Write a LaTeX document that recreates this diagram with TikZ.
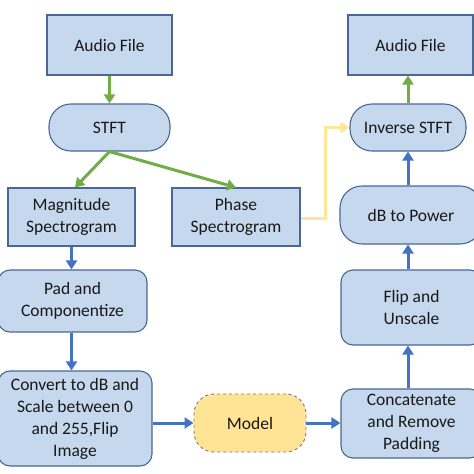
\documentclass[tikz,border=0pt]{standalone}
\usepackage{fontspec}
\setmainfont{Carlito}
\usetikzlibrary{arrows.meta}
\definecolor{boxfill}{RGB}{197,216,238}
\definecolor{boxline}{RGB}{72,104,150}
\definecolor{ablue}{RGB}{68,114,196}
\definecolor{agreen}{RGB}{112,173,71}
\definecolor{ayellow}{RGB}{255,230,153}
\definecolor{mfill}{RGB}{255,228,150}
\definecolor{mline}{RGB}{120,120,120}
\definecolor{txt}{RGB}{25,25,25}
\tikzset{
  base/.style={draw=boxline, line width=1.1pt, fill=boxfill, text=txt, align=center,
    inner sep=0pt, font=\fontsize{17.5}{22}\selectfont},
  sqbox/.style={base, rectangle},
  rbox/.style={base, rounded corners=12pt},
  capbox/.style={base, rounded corners=22pt},
  modelbox/.style={base, draw=mline, dashed, line width=0.9pt, fill=mfill, rounded corners=20pt},
  arr/.style={line width=3pt, -{Triangle[length=9pt,width=11pt]}},
  barr/.style={arr, ablue},
  garr/.style={arr, agreen},
  yarr/.style={arr, ayellow},
}
\begin{document}
\begin{tikzpicture}[x=1pt,y=-1pt]
\useasboundingbox[fill=white] (0,0) rectangle (474,474);
\node[sqbox, minimum width=125pt, minimum height=60pt] (af1) at (109.5,45) {Audio File};
\node[capbox, minimum width=121pt, minimum height=47pt] (stft) at (109.5,127.5) {STFT};
\node[sqbox, minimum width=127pt, minimum height=58pt] (mag) at (71.5,217) {Magnitude\\Spectrogram};
\node[sqbox, minimum width=128pt, minimum height=58pt] (phase) at (236,217) {Phase\\Spectrogram};
\node[rbox, minimum width=149pt, minimum height=62pt] (pad) at (72.5,301) {Pad and\\Componentize};
\node[rbox, minimum width=154pt, minimum height=95pt] (conv) at (75,418.5) {Convert to dB and\\Scale between 0\\and 255,Flip\\Image};
\node[modelbox, minimum width=112pt, minimum height=58pt] (model) at (250,423) {Model};
\node[rbox, minimum width=141pt, minimum height=69pt] (concat) at (411.5,423.5) {Concatenate\\and Remove\\Padding};
\node[rbox, minimum width=141pt, minimum height=75pt] (flip) at (411.5,307.5) {Flip and\\Unscale};
\node[capbox, minimum width=142pt, minimum height=58pt] (db) at (411,215) {dB to Power};
\node[capbox, minimum width=116pt, minimum height=47pt] (inv) at (408,127.5) {Inverse STFT};
\node[sqbox, minimum width=125pt, minimum height=60pt] (af2) at (410.5,45) {Audio File};

\draw[garr] (af1.south) -- (stft.north);
\draw[garr] (stft.south) -- (mag.north -| 75,0);
\draw[garr] (stft.south) -- (phase.north);
\draw[barr] (mag.south) -- (pad.north -| mag.south);
\draw[barr] (pad.south -| mag.south) -- (conv.north -| mag.south);
\draw[barr] (conv.east |- model.west) -- (model.west);
\draw[barr] (model.east) -- (concat.west |- model.east);
\draw[barr] (concat.north -| inv.south) -- (flip.south -| inv.south);
\draw[barr] (flip.north -| inv.south) -- (db.south -| inv.south);
\draw[barr] (db.north -| inv.south) -- (inv.south);
\draw[garr] (inv.north) -- (af2.south -| inv.north);
\coordinate (ya) at (325,218);
\coordinate (yb) at (325,127.5);
\draw[yarr] (phase.east |- ya) -- (ya) -- (yb) -- (inv.west);
\end{tikzpicture}
\end{document}
